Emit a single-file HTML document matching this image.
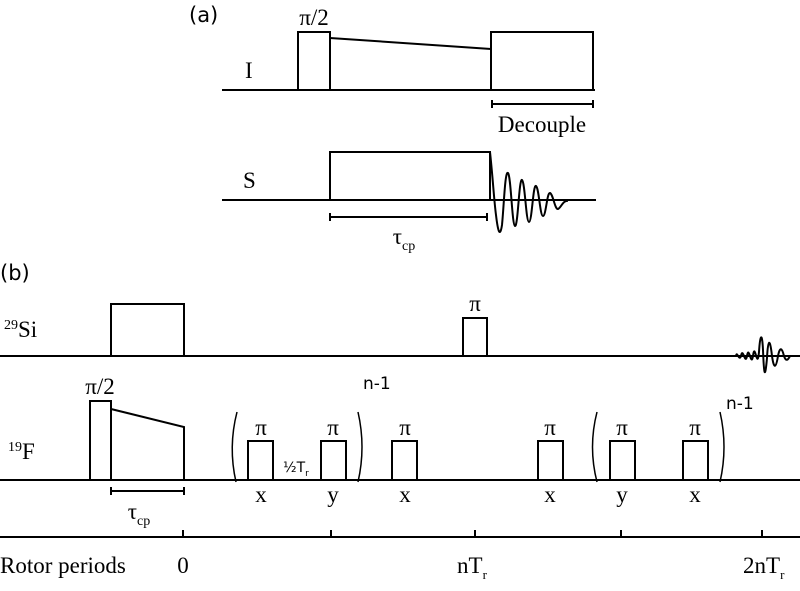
<!DOCTYPE html>
<html><head><meta charset="utf-8"><style>
html,body{margin:0;padding:0;background:#fff}
svg{display:block}
.s{font-family:"Liberation Serif",serif;fill:#000}
.a{font-family:"DejaVu Sans","Liberation Sans",sans-serif;fill:#000}
</style></head><body>
<svg width="800" height="591" viewBox="0 0 800 591" xmlns="http://www.w3.org/2000/svg">
<g fill="none" stroke="#000" stroke-width="2">
<line x1="222" y1="90" x2="595" y2="90"/>
<rect x="298" y="32" width="32" height="58"/>
<line x1="330" y1="38" x2="491" y2="49"/>
<rect x="491" y="32" width="102" height="58"/>
<line x1="492" y1="104" x2="593" y2="104"/>
<line x1="492" y1="100" x2="492" y2="108"/><line x1="593" y1="100" x2="593" y2="108"/>
<line x1="222" y1="200" x2="596" y2="200"/>
<rect x="330" y="152" width="160" height="48"/>
<line x1="330" y1="217" x2="487" y2="217"/>
<line x1="330" y1="213" x2="330" y2="221"/><line x1="487" y1="213" x2="487" y2="221"/>
<path d="M490,152 C493,180 494,200 496,215 C498,232 500,238 502,225 C504,205 505,170 508,173 C511,176 512,225 515,226 C518,227 519,178 522,180 C525,182 526,222 529,222 C532,222 533,184 536,186 C539,188 540,216 543,216 C546,216 547,192 550,193 C553,194 555,210 558,209 C561,208 563,200 568,201"/>
<line x1="0" y1="356" x2="800" y2="356"/>
<rect x="111" y="304" width="73" height="52"/>
<rect x="463" y="318" width="24" height="38"/>
<path d="M736,356 C737,350 739,362 741,356 C743,346 745,366 747,356 C749,344 751,368 753,356 C755,340 757,372 759,352 C760,336 762,330 763,350 C764,376 765,380 767,358 C768,338 770,338 772,356 C774,370 776,368 778,356 C780,346 782,348 784,356 C786,362 788,360 790,356"/>
<line x1="0" y1="480" x2="800" y2="480"/>
<rect x="90" y="401" width="21" height="79"/>
<polyline points="111,409 184,427 184,480"/>
<line x1="111" y1="491" x2="184" y2="491"/>
<line x1="111" y1="487" x2="111" y2="495"/><line x1="184" y1="487" x2="184" y2="495"/>
<rect x="248" y="441" width="25" height="39"/>
<rect x="321" y="441" width="25" height="39"/>
<rect x="392" y="441" width="25" height="39"/>
<rect x="538" y="441" width="25" height="39"/>
<rect x="610" y="441" width="25" height="39"/>
<rect x="683" y="441" width="25" height="39"/>
<path d="M237,412 Q228,447 236,482" stroke-width="1.5"/>
<path d="M358,412 Q366,447 358,482" stroke-width="1.5"/>
<path d="M597,412 Q588,447 597,482" stroke-width="1.5"/>
<path d="M720,412 Q728,447 720,482" stroke-width="1.5"/>
<line x1="0" y1="537" x2="800" y2="537"/>
<line x1="183" y1="530" x2="183" y2="537"/>
<line x1="331" y1="530" x2="331" y2="537"/>
<line x1="475" y1="530" x2="475" y2="537"/>
<line x1="621" y1="530" x2="621" y2="537"/>
<line x1="762" y1="530" x2="762" y2="537"/>
</g>
<g class="a" font-size="21">
<text x="189" y="22">(a)</text>
<text x="0" y="280">(b)</text>
</g>
<g class="s" font-size="23">
<text x="314" y="25" text-anchor="middle">π/2</text>
<text x="245" y="78">I</text>
<text x="542" y="132" text-anchor="middle">Decouple</text>
<text x="243" y="188">S</text>
<text x="404" y="244" text-anchor="middle">τ<tspan font-size="14" dy="6">cp</tspan></text>
<text x="4" y="337"><tspan font-size="14" dy="-8">29</tspan><tspan dy="8">Si</tspan></text>
<text x="475" y="311" text-anchor="middle">π</text>
<text x="100" y="394" text-anchor="middle">π/2</text>
<text x="8" y="459"><tspan font-size="14" dy="-8">19</tspan><tspan dy="8">F</tspan></text>
<text x="139" y="519" text-anchor="middle">τ<tspan font-size="14" dy="6">cp</tspan></text>
<text x="261" y="435" text-anchor="middle">π</text>
<text x="333" y="435" text-anchor="middle">π</text>
<text x="405" y="435" text-anchor="middle">π</text>
<text x="550" y="435" text-anchor="middle">π</text>
<text x="622" y="435" text-anchor="middle">π</text>
<text x="695" y="435" text-anchor="middle">π</text>
<text x="261" y="502" text-anchor="middle">x</text>
<text x="333" y="502" text-anchor="middle">y</text>
<text x="405" y="502" text-anchor="middle">x</text>
<text x="550" y="502" text-anchor="middle">x</text>
<text x="622" y="502" text-anchor="middle">y</text>
<text x="695" y="502" text-anchor="middle">x</text>
<text x="0" y="573">Rotor periods</text>
<text x="183" y="573" text-anchor="middle">0</text>
<text x="457" y="573">nT<tspan font-size="13" dy="6">r</tspan></text>
<text x="743" y="573">2nT<tspan font-size="13" dy="6">r</tspan></text>
</g>
<g class="a" font-size="17">
<text x="363" y="389">n-1</text>
<text x="726" y="409">n-1</text>
<text x="283" y="472" font-size="14">½T<tspan font-size="9" dy="4">r</tspan></text>
</g>
</svg>
</body></html>
